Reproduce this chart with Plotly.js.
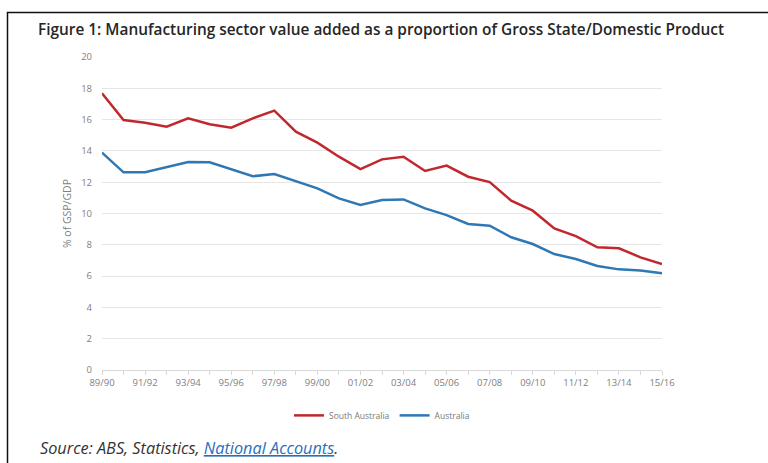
<!DOCTYPE html>
<html>
<head>
<meta charset="utf-8">
<script src="https://cdn.plot.ly/plotly-3.0.1.min.js"></script>
<style>
html,body{margin:0;padding:0;background:#fff;}
#chart{width:768px;height:463px;}
</style>
</head>
<body>
<div id="chart"></div>
<script>
const years = ["89/90","90/91","91/92","92/93","93/94","94/95","95/96","96/97","97/98","98/99",
  "99/00","00/01","01/02","02/03","03/04","04/05","05/06","06/07","07/08","08/09",
  "09/10","10/11","11/12","12/13","13/14","14/15","15/16"];
const southAustralia = [17.68,15.97,15.80,15.55,16.08,15.70,15.48,16.08,16.57,15.23,
  14.53,13.63,12.84,13.46,13.63,12.72,13.06,12.35,12.01,10.82,
  10.18,9.05,8.56,7.84,7.78,7.20,6.77];
const australia = [13.89,12.63,12.63,12.95,13.29,13.27,12.82,12.38,12.52,12.05,
  11.61,10.97,10.54,10.86,10.90,10.33,9.90,9.33,9.22,8.48,
  8.05,7.41,7.09,6.65,6.43,6.35,6.18];
const yTicks = [0,2,4,6,8,10,12,14,16,18,20];
const seriesNames = ["South Australia","Australia"];
const titleText = "Figure 1: Manufacturing sector value added as a proportion of Gross State/Domestic Product";
const yTitle = "% of GSP/GDP";

const traces = [
  {x: years, y: southAustralia, name: seriesNames[0], type: "scatter", mode: "lines",
   line: {color: "#c0282e", width: 2.5}},
  {x: years, y: australia, name: seriesNames[1], type: "scatter", mode: "lines",
   line: {color: "#2f78b4", width: 2.5}}
];

const layout = {
  width: 768, height: 463,
  margin: {l: 102, r: 106, t: 57, b: 93},
  paper_bgcolor: "#ffffff", plot_bgcolor: "#ffffff",
  font: {family: "Open Sans, sans-serif", color: "#8a8a8a"},
  showlegend: true,
  title: {
    text: titleText,
    font: {family: "Open Sans, sans-serif", size: 15.4, color: "#262626", weight: 600},
    xref: "container", yref: "container",
    x: 38/768, xanchor: "left",
    y: 1 - 30/463, yanchor: "middle"
  },
  xaxis: {
    type: "category",
    range: [0, years.length - 1],
    showgrid: false,
    showline: true, linecolor: "#d9d9d9", linewidth: 1,
    ticks: "outside", ticklen: 4, tickcolor: "#d9d9d9", tickwidth: 1,
    dtick: 1, ticklabelstep: 2,
    tickfont: {size: 9.5, color: "#808080"},
    zeroline: false, fixedrange: true
  },
  yaxis: {
    range: [0, 20],
    tickmode: "array", tickvals: yTicks,
    showgrid: true, gridcolor: "#e6e6e6", gridwidth: 1,
    zeroline: false, showline: false,
    ticks: "", ticklabelstandoff: 9,
    tickfont: {size: 9.5, color: "#808080"},
    title: {text: yTitle, font: {size: 10.5, color: "#808080"}, standoff: 7},
    fixedrange: true
  },
  legend: {
    orientation: "h",
    x: 0.5, xanchor: "center",
    y: -0.145, yanchor: "middle",
    font: {size: 8.5, color: "#7a7a7a"},
    itemwidth: 30,
    bgcolor: "rgba(0,0,0,0)"
  },
  shapes: [{
    type: "rect", xref: "paper", yref: "paper", layer: "below",
    x0: (7.5 - 102)/560, x1: (1000 - 102)/560,
    y0: (370 - 600)/313, y1: (370 - 12.5)/313,
    line: {color: "#111111", width: 1.5}, fillcolor: "rgba(0,0,0,0)"
  }],
  annotations: [{
    xref: "paper", yref: "paper",
    x: (38 - 102)/560, xanchor: "left",
    y: (370 - 448)/313, yanchor: "middle",
    showarrow: false,
    text: "<i>Source: ABS, Statistics, <span style='fill:#2a6ebb;text-decoration:underline'>National Accounts</span>.</i>",
    font: {family: "Open Sans, sans-serif", size: 16.3, color: "#333333"}
  }]
};

Plotly.newPlot("chart", traces, layout, {displayModeBar: false, staticPlot: true});
</script>
</body>
</html>
